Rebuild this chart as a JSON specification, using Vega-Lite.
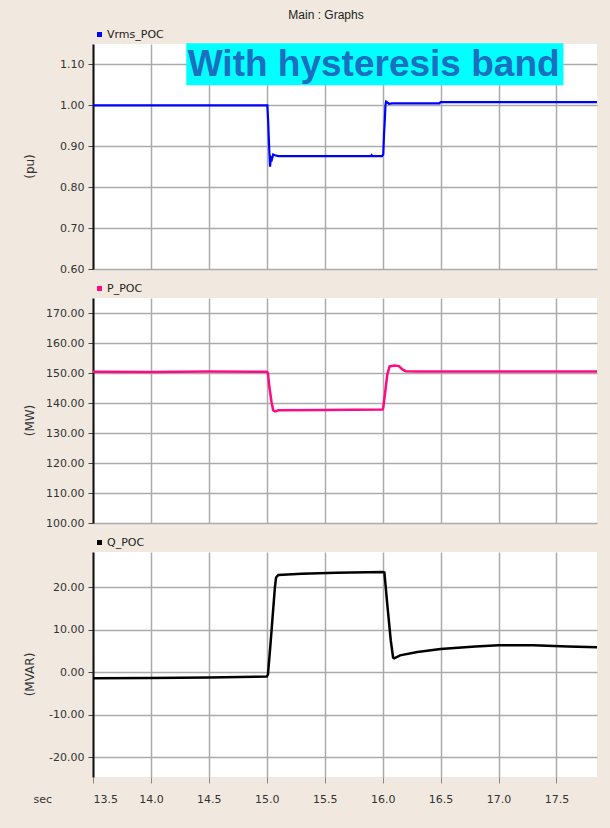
{
  "$schema": "https://vega.github.io/schema/vega-lite/v6.json",
  "background": "#f1e9df",
  "padding": {"left": 23, "top": 9, "right": 13, "bottom": 25},
  "title": {"text": "Main : Graphs", "anchor": "middle", "frame": "group", "dx": -19, "fontSize": 12, "font": "Liberation Sans", "fontWeight": "normal", "color": "#222222", "offset": 7},
  "datasets": {
    "vrms": [
      {"t": 13.5, "v": 1.0}, {"t": 15.005, "v": 1.0}, {"t": 15.012, "v": 0.96}, {"t": 15.02, "v": 0.9},
      {"t": 15.028, "v": 0.85}, {"t": 15.036, "v": 0.872}, {"t": 15.044, "v": 0.868}, {"t": 15.055, "v": 0.88},
      {"t": 15.07, "v": 0.878}, {"t": 15.1, "v": 0.876}, {"t": 15.9, "v": 0.876}, {"t": 15.905, "v": 0.878},
      {"t": 15.91, "v": 0.876}, {"t": 15.995, "v": 0.876}, {"t": 16.005, "v": 0.88}, {"t": 16.012, "v": 0.93},
      {"t": 16.018, "v": 0.96}, {"t": 16.024, "v": 1.0}, {"t": 16.03, "v": 1.009}, {"t": 16.04, "v": 1.007},
      {"t": 16.055, "v": 1.004}, {"t": 16.08, "v": 1.005}, {"t": 16.49, "v": 1.005}, {"t": 16.5, "v": 1.008},
      {"t": 17.85, "v": 1.008}
    ],
    "p": [
      {"t": 13.5, "v": 150.4}, {"t": 14.0, "v": 150.3}, {"t": 14.5, "v": 150.5}, {"t": 15.0, "v": 150.4},
      {"t": 15.01, "v": 150.0}, {"t": 15.02, "v": 146.0}, {"t": 15.04, "v": 140.5}, {"t": 15.055, "v": 137.6},
      {"t": 15.07, "v": 137.2}, {"t": 15.1, "v": 137.6}, {"t": 15.5, "v": 137.7}, {"t": 16.0, "v": 137.8},
      {"t": 16.005, "v": 138.5}, {"t": 16.02, "v": 143.0}, {"t": 16.04, "v": 149.5}, {"t": 16.06, "v": 152.2},
      {"t": 16.1, "v": 152.5}, {"t": 16.14, "v": 152.3}, {"t": 16.17, "v": 151.2}, {"t": 16.2, "v": 150.6},
      {"t": 16.3, "v": 150.5}, {"t": 17.85, "v": 150.5}
    ],
    "q": [
      {"t": 13.5, "v": -1.4}, {"t": 14.0, "v": -1.3}, {"t": 14.5, "v": -1.2}, {"t": 15.0, "v": -1.0},
      {"t": 15.01, "v": -0.5}, {"t": 15.03, "v": 6.0}, {"t": 15.05, "v": 13.0}, {"t": 15.07, "v": 20.0},
      {"t": 15.08, "v": 22.3}, {"t": 15.1, "v": 22.9}, {"t": 15.3, "v": 23.2}, {"t": 15.6, "v": 23.4},
      {"t": 16.0, "v": 23.6}, {"t": 16.015, "v": 23.5}, {"t": 16.04, "v": 16.0}, {"t": 16.07, "v": 7.5},
      {"t": 16.09, "v": 3.5}, {"t": 16.1, "v": 3.3}, {"t": 16.15, "v": 4.0}, {"t": 16.3, "v": 4.8},
      {"t": 16.5, "v": 5.5}, {"t": 16.8, "v": 6.1}, {"t": 17.0, "v": 6.4}, {"t": 17.3, "v": 6.4},
      {"t": 17.6, "v": 6.1}, {"t": 17.85, "v": 5.9}
    ]
  },
  "spacing": 29,
  "bounds": "flush",
  "resolve": {"scale": {"color": "independent"}},
  "vconcat": [
    {
      "width": 504, "height": 225,
      "layer": [
        {
          "data": {"values": [{"x1": 14.305, "x2": 17.56, "y1": 1.049, "y2": 1.152}]},
          "mark": {"type": "rect", "color": "#00ffff", "clip": false},
          "encoding": {
            "x": {"field": "x1", "type": "quantitative"}, "x2": {"field": "x2"},
            "y": {"field": "y1", "type": "quantitative"}, "y2": {"field": "y2"}
          }
        },
        {
          "data": {"name": "vrms"},
          "mark": {"type": "line", "strokeWidth": 2.2},
          "encoding": {
            "x": {"field": "t", "type": "quantitative", "scale": {"domain": [13.5, 17.85], "nice": false, "zero": false},
                  "axis": {"values": [13.5, 14, 14.5, 15, 15.5, 16, 16.5, 17, 17.5], "labels": false, "ticks": false, "domain": false, "title": null}},
            "y": {"field": "v", "type": "quantitative", "scale": {"domain": [0.6, 1.15], "nice": false, "zero": false},
                  "axis": {"values": [0.6, 0.7, 0.8, 0.9, 1.0, 1.1], "format": ".2f", "title": "(pu)"}},
            "color": {"datum": "Vrms_POC", "scale": {"range": ["#0000ff"]},
                      "legend": {"encode": {"symbols": {"update": {"fill": {"value": "#0000ff"}, "stroke": {"value": "#0000ff"}, "strokeWidth": {"value": 0}}}}}}
          }
        },
        {
          "data": {"values": [{"x": 14.318, "y": 1.0708, "label": "With hysteresis band"}]},
          "mark": {"type": "text", "align": "left", "baseline": "alphabetic", "font": "Liberation Sans", "fontSize": 37, "fontWeight": "bold", "color": "#1a6fc0"},
          "encoding": {
            "x": {"field": "x", "type": "quantitative"},
            "y": {"field": "y", "type": "quantitative"},
            "text": {"field": "label"}
          }
        }
      ]
    },
    {
      "width": 504, "height": 225,
      "data": {"name": "p"},
      "mark": {"type": "line", "strokeWidth": 2.5},
      "encoding": {
        "x": {"field": "t", "type": "quantitative", "scale": {"domain": [13.5, 17.85], "nice": false, "zero": false},
              "axis": {"values": [13.5, 14, 14.5, 15, 15.5, 16, 16.5, 17, 17.5], "labels": false, "ticks": false, "domain": false, "title": null}},
        "y": {"field": "v", "type": "quantitative", "scale": {"domain": [100, 175], "nice": false, "zero": false},
              "axis": {"values": [100, 110, 120, 130, 140, 150, 160, 170], "format": ".2f", "title": "(MW)"}},
        "color": {"datum": "P_POC", "scale": {"range": ["#ff0a82"]},
                  "legend": {"encode": {"symbols": {"update": {"fill": {"value": "#ff0a82"}, "stroke": {"value": "#ff0a82"}, "strokeWidth": {"value": 0}}}}}}
      }
    },
    {
      "width": 504, "height": 225,
      "data": {"name": "q"},
      "mark": {"type": "line", "strokeWidth": 2.5},
      "encoding": {
        "x": {"field": "t", "type": "quantitative", "scale": {"domain": [13.5, 17.85], "nice": false, "zero": false},
              "axis": {"values": [13.5, 14, 14.5, 15, 15.5, 16, 16.5, 17, 17.5], "format": ".1f", "labels": true, "ticks": true, "tickSize": 6, "tickColor": "#888888", "labelPadding": 10, "domain": false,
                       "title": "sec", "titleX": -60, "titleY": 22, "titleAlign": "left", "titleBaseline": "middle", "titleAngle": 0, "titleFontSize": 11}},
        "y": {"field": "v", "type": "quantitative", "scale": {"domain": [-24.6, 28.3], "nice": false, "zero": false},
              "axis": {"values": [-20, -10, 0, 10, 20], "labelExpr": "replace(format(datum.value, '.2f'), '\u2212', '-')", "title": "(MVAR)"}},
        "color": {"datum": "Q_POC", "scale": {"range": ["#000000"]},
                  "legend": {"encode": {"symbols": {"update": {"fill": {"value": "#000000"}, "stroke": {"value": "#000000"}, "strokeWidth": {"value": 0}}}}}}
      }
    }
  ],
  "config": {
    "view": {"stroke": null, "fill": "#ffffff"},
    "axis": {"labelFont": "DejaVu Sans", "labelFontSize": 11, "labelColor": "#333333", "titleFont": "DejaVu Sans", "titleFontSize": 12, "titleFontWeight": "normal", "titleColor": "#333333",
             "gridColor": "#ababab", "gridWidth": 1.5, "tickColor": "#444444", "domainColor": "#111111"},
    "axisY": {"domainWidth": 2, "tickSize": 5, "labelPadding": 4, "titleX": -64, "titleY": 122, "titleBaseline": "middle", "titleAngle": -90},
    "legend": {"orient": "none", "legendX": 1, "legendY": -15, "title": null, "labelFont": "DejaVu Sans", "labelFontSize": 11, "labelColor": "#222222",
               "symbolType": "square", "symbolSize": 25, "labelOffset": 2, "padding": 0}
  }
}
